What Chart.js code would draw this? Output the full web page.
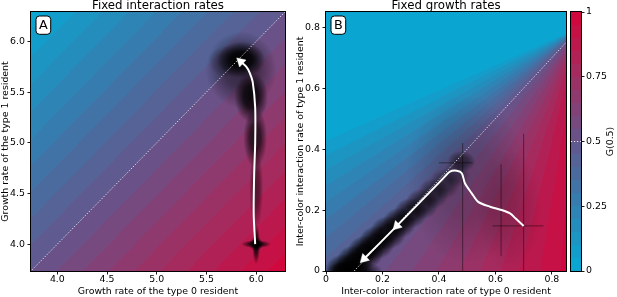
<!DOCTYPE html>
<html><head><meta charset="utf-8">
<script src="https://cdn.jsdelivr.net/npm/chart.js@4/dist/chart.umd.min.js"></script>
<style>
html,body{margin:0;padding:0;background:#fff;width:617px;height:297px;overflow:hidden;}
canvas{position:absolute;top:0;}
</style></head><body>
<canvas id="ca" width="300" height="297" style="left:0px"></canvas>
<canvas id="cb" width="300" height="297" style="left:286px"></canvas>
<canvas id="cc" width="57" height="297" style="left:560px"></canvas>
<script>
// ---------- text ----------
const titleA = 'Fixed interaction rates';
const titleB = 'Fixed growth rates';
const aXLabel = 'Growth rate of the type 0 resident';
const aYLabel = 'Growth rate of the type 1 resident';
const bXLabel = 'Inter-color interaction rate of type 0 resident';
const bYLabel = 'Inter-color interaction rate of type 1 resident';
const cbLabel = 'G(0.5)';
const panelLetters = ['A', 'B'];

// ---------- axes ----------
const aRange = [3.735, 6.29];
const bRange = [0, 0.85];
const aTicks = [4.0, 4.5, 5.0, 5.5, 6.0];
const aTickLabels = ['4.0', '4.5', '5.0', '5.5', '6.0'];
const bTicks = [0, 0.2, 0.4, 0.6, 0.8];
const bTickLabels = ['0', '0.2', '0.4', '0.6', '0.8'];
const cbTicks = [0, 0.25, 0.5, 0.75, 1];
const cbTickLabels = ['0', '0.25', '0.5', '0.75', '1'];

// ---------- colour map (G value -> colour) ----------
const cmapStops = [0, 0.25, 0.5, 0.75, 1];
const cmapColors = [[5,170,212],[50,128,178],[100,86,140],[160,46,98],[214,4,58]];
const cmapLevels = 20;

// ---------- G field, panel A: depends on (x - y) ----------
const aFieldDiff = [-2.6, -1.3, 0, 1.3, 2.6];
const aFieldG = [0.01, 0.25, 0.5, 0.75, 0.99];
// ---------- G field, panel B: depends on direction towards a focus point ----------
const bFieldFocus = [0.9, 0.8];
const bFieldAngle = [10, 21, 45, 60, 75, 90];
const bFieldG = [0, 0.02, 0.5, 0.68, 0.85, 1];

// ---------- mean trajectories ----------
const aPathX = [5.99, 5.975, 5.98, 5.99, 5.99, 5.965, 5.935, 5.9, 5.845];
const aPathY = [4.0, 4.3, 4.7, 5.0, 5.35, 5.6, 5.69, 5.75, 5.80];
const aArrowX = [5.845];
const aArrowY = [5.80];
const aArrowFromX = [5.9];
const aArrowFromY = [5.75];

const bPathX = [0.70, 0.672, 0.652, 0.622, 0.581, 0.539, 0.516, 0.492, 0.481, 0.463, 0.439, 0.415, 0.251, 0.135];
const bPathY = [0.148, 0.172, 0.189, 0.200, 0.211, 0.227, 0.255, 0.288, 0.321, 0.329, 0.326, 0.304, 0.148, 0.040];
const bArrowX = [0.251, 0.135];
const bArrowY = [0.148, 0.040];
const bArrowFromX = [0.415, 0.251];
const bArrowFromY = [0.304, 0.148];

// ---------- diagonals (G = 0.5) ----------
const aDiagX = [3.6, 6.4];
const aDiagY = [3.6, 6.4];
const bDiagX = [0.1, 0.95];
const bDiagY = [0, 0.85];
const cbMarkX = [0, 1];
const cbMarkY = [0.5, 0.5];

// ---------- simulated populations (density clouds) ----------
const aCloudX  = [5.85, 5.85, 5.95, 5.99, 6.00, 6.00, 6.00, 6.00, 5.70];
const aCloudY  = [5.82, 5.72, 5.45, 5.05, 4.55, 4.00, 4.00, 4.00, 5.80];
const aCloudRX = [0.24, 0.36, 0.17, 0.12, 0.07, 0.15, 0.04, 0.07, 0.18];
const aCloudRY = [0.18, 0.38, 0.25, 0.30, 0.40, 0.04, 0.20, 0.07, 0.16];
const aCloudA  = [1.0, 0.5, 0.9, 0.75, 0.5, 0.85, 0.85, 0.9, 0.35];

const bCloudX  = [0.10, 0.06, 0.10, 0.14, 0.18, 0.22, 0.26, 0.30, 0.34, 0.38, 0.42, 0.46, 0.50, 0.65, 0.48];
const bCloudY  = [0.00, 0.00, 0.03, 0.062, 0.094, 0.126, 0.158, 0.19, 0.22, 0.254, 0.286, 0.318, 0.30, 0.20, 0.36];
const bCloudRX = [0.10, 0.065, 0.065, 0.065, 0.065, 0.065, 0.06, 0.06, 0.06, 0.055, 0.055, 0.05, 0.22, 0.12, 0.05];
const bCloudRY = [0.035, 0.055, 0.055, 0.055, 0.055, 0.055, 0.05, 0.05, 0.05, 0.05, 0.05, 0.045, 0.28, 0.20, 0.035];
const bCloudA  = [0.95, 1.0, 1.0, 1.0, 0.95, 0.9, 0.85, 0.75, 0.65, 0.55, 0.45, 0.35, 0.18, 0.12, 0.5];

const bVLineX  = [0.484, 0.70, 0.62];
const bVLineY0 = [0, 0, 0.05];
const bVLineY1 = [0.42, 0.45, 0.35];
const bHLineY  = [0.148, 0.355];
const bHLineX0 = [0.59, 0.40];
const bHLineX1 = [0.77, 0.52];

// ================= helpers =================
Chart.defaults.font.family = '"DejaVu Sans", sans-serif';
Chart.defaults.color = '#000';
const zip = (xs, ys) => xs.map((v, i) => ({x: v, y: ys[i]}));
function interp(xs, ys, v) {
  if (v <= xs[0]) return ys[0];
  for (let i = 1; i < xs.length; i++) {
    if (v <= xs[i]) { const t = (v - xs[i-1]) / (xs[i] - xs[i-1]); return ys[i-1] + t * (ys[i] - ys[i-1]); }
  }
  return ys[ys.length - 1];
}
function cmap(g) {
  g = Math.min(0.99999, Math.max(0, g));
  g = (Math.floor(g * cmapLevels) + 0.5) / cmapLevels;
  return [0,1,2].map(k => Math.round(interp(cmapStops, cmapColors.map(c => c[k]), g)));
}
const gA = (x, y) => interp(aFieldDiff, aFieldG, x - y);
const gB = (x, y) => {
  const ang = Math.atan2(bFieldFocus[1] - y, bFieldFocus[0] - x) * 180 / Math.PI;
  return interp(bFieldAngle, bFieldG, ang);
};
const gCB = (x, y) => y;

function drawBlob(ctx, sx, sy, cx, cy, rx, ry, a) {
  const px = sx.getPixelForValue(cx), py = sy.getPixelForValue(cy);
  const rpx = Math.abs(sx.getPixelForValue(cx + rx) - px);
  const rpy = Math.abs(sy.getPixelForValue(cy + ry) - py);
  ctx.save();
  ctx.translate(px, py); ctx.scale(rpx, rpy);
  const g = ctx.createRadialGradient(0, 0, 0, 0, 0, 1);
  g.addColorStop(0, `rgba(0,0,0,${a})`);
  g.addColorStop(0.45, `rgba(0,0,0,${a * 0.85})`);
  g.addColorStop(0.75, `rgba(0,0,0,${a * 0.4})`);
  g.addColorStop(1, 'rgba(0,0,0,0)');
  ctx.fillStyle = g;
  ctx.beginPath(); ctx.arc(0, 0, 1, 0, Math.PI * 2); ctx.fill();
  ctx.restore();
}

function bgPlugin(gfun, clouds) {
  return {
    id: 'bg',
    beforeDatasetsDraw(chart) {
      const {ctx, chartArea: a, scales: {x, y}} = chart;
      const L = Math.round(a.left), T = Math.round(a.top);
      const W = Math.round(a.right) - L, H = Math.round(a.bottom) - T;
      const off = document.createElement('canvas'); off.width = W; off.height = H;
      const octx = off.getContext('2d');
      const img = octx.createImageData(W, H);
      for (let j = 0; j < H; j++) {
        const yv = y.getValueForPixel(T + j + 0.5);
        for (let i = 0; i < W; i++) {
          const xv = x.getValueForPixel(L + i + 0.5);
          const c = cmap(gfun(xv, yv));
          const k = (j * W + i) * 4;
          img.data[k] = c[0]; img.data[k+1] = c[1]; img.data[k+2] = c[2]; img.data[k+3] = 255;
        }
      }
      octx.putImageData(img, 0, 0);
      ctx.drawImage(off, L, T);
      if (clouds) {
        ctx.save();
        ctx.beginPath(); ctx.rect(L, T, W, H); ctx.clip();
        for (let i = 0; i < clouds.x.length; i++) {
          drawBlob(ctx, x, y, clouds.x[i], clouds.y[i], clouds.rx[i], clouds.ry[i], clouds.a[i]);
        }
        ctx.restore();
      }
    }
  };
}

function decorPlugin(title, letter, rotLabel) {
  return {
    id: 'decor',
    afterDatasetsDraw(chart) {
      const {ctx, chartArea: a} = chart;
      ctx.save();
      ctx.strokeStyle = '#000'; ctx.lineWidth = 1;
      ctx.strokeRect(Math.round(a.left) - 0.5, Math.round(a.top) - 0.5,
                     Math.round(a.right) - Math.round(a.left) + 1, Math.round(a.bottom) - Math.round(a.top) + 1);
      if (letter) {
        const bx = a.left + 5, by = a.top + 4, bw = 14.7, bh = 18.3;
        ctx.beginPath(); ctx.roundRect(bx, by, bw, bh, 3.5);
        ctx.fillStyle = '#fff'; ctx.fill();
        ctx.lineWidth = 1; ctx.strokeStyle = '#000'; ctx.stroke();
        ctx.fillStyle = '#000'; ctx.font = '12.8px "DejaVu Sans"';
        ctx.textAlign = 'center'; ctx.textBaseline = 'alphabetic';
        ctx.fillText(letter, bx + bw / 2, by + 13.3);
      }
      if (title) {
        ctx.fillStyle = '#000'; ctx.font = '11.8px "DejaVu Sans"';
        ctx.textAlign = 'center'; ctx.textBaseline = 'alphabetic';
        ctx.fillText(title, (a.left + a.right) / 2, 9.3);
      }
      if (rotLabel) {
        ctx.fillStyle = '#000'; ctx.font = '9.4px "DejaVu Sans"';
        ctx.translate(rotLabel.x, rotLabel.y); ctx.rotate(-Math.PI / 2);
        ctx.textAlign = 'center'; ctx.textBaseline = 'middle';
        ctx.fillText(rotLabel.text, 0, 0);
      }
      ctx.restore();
    }
  };
}

function makeScale(pos, range, ticks, labels, title, fit, titlePad, tickPad) {
  return {
    type: 'linear', position: pos, min: range[0], max: range[1],
    afterBuildTicks: s => { s.ticks = ticks.map(v => ({value: v})); },
    afterFit: fit,
    ticks: { autoSkip: false, maxRotation: 0, minRotation: 0, padding: tickPad, color: '#000',
             font: {size: 9.4, lineHeight: 1}, callback: (v, i) => labels[i] },
    grid: { display: true, drawOnChartArea: false, drawTicks: true, tickLength: 3.5, color: '#000', lineWidth: 0.9 },
    border: { display: false },
    title: { display: !!title, text: title || '', color: '#000', font: {size: 9.4, lineHeight: 1}, padding: titlePad }
  };
}

function arrowRotation(fromX, fromY) {
  return (c) => {
    const i = c.dataIndex;
    if (i === undefined) return 0;
    const sx = c.chart.scales.x, sy = c.chart.scales.y;
    const p = c.dataset.data[i];
    const dx = sx.getPixelForValue(p.x) - sx.getPixelForValue(fromX[i]);
    const dy = sy.getPixelForValue(p.y) - sy.getPixelForValue(fromY[i]);
    return Math.atan2(dx, -dy) * 180 / Math.PI;
  };
}

function pathDataset(xs, ys, order) {
  return { type: 'line', data: zip(xs, ys), borderColor: '#fff', borderWidth: 2, pointRadius: 0,
           tension: 0.25, showLine: true, fill: false, order };
}
function arrowDataset(xs, ys, fx, fy) {
  return { type: 'scatter', data: zip(xs, ys), pointStyle: 'triangle', pointRadius: 5.5,
           backgroundColor: '#fff', borderColor: '#fff', borderWidth: 0.5,
           rotation: arrowRotation(fx, fy), order: 0 };
}
function diagDataset(xs, ys) {
  return { type: 'line', data: zip(xs, ys), borderColor: 'rgba(255,255,255,0.85)', borderWidth: 1,
           borderDash: [1.2, 1.8], pointRadius: 0, showLine: true, fill: false, order: 2 };
}
function darkLine(pts) {
  return { type: 'line', data: pts, borderColor: 'rgba(0,0,0,0.45)', borderWidth: 1,
           pointRadius: 0, showLine: true, fill: false, order: 3 };
}

const baseOpts = {
  responsive: false, animation: false, events: [],
  plugins: { legend: {display: false}, tooltip: {enabled: false}, title: {display: false} }
};

// ================= Panel A =================
new Chart(document.getElementById('ca'), {
  type: 'scatter',
  data: { datasets: [
    arrowDataset(aArrowX, aArrowY, aArrowFromX, aArrowFromY),
    pathDataset(aPathX, aPathY, 1),
    diagDataset(aDiagX, aDiagY)
  ]},
  options: Object.assign({}, baseOpts, {
    layout: { autoPadding: false, padding: {left: 0, right: 15, top: 12, bottom: 0} },
    scales: {
      x: makeScale('bottom', aRange, aTicks, aTickLabels, aXLabel, s => { s.height = 26; }, {top: 0, bottom: 0.8}, 0),
      y: makeScale('left', aRange, aTicks, aTickLabels, aYLabel, s => { s.width = 31; }, {top: 0.8, bottom: 0}, 2.5)
    }
  }),
  plugins: [bgPlugin(gA, {x: aCloudX, y: aCloudY, rx: aCloudRX, ry: aCloudRY, a: aCloudA}),
            decorPlugin(titleA, panelLetters[0], null)]
});

// ================= Panel B =================
const bDark = [];
for (let i = 0; i < bVLineX.length; i++) bDark.push(darkLine([{x: bVLineX[i], y: bVLineY0[i]}, {x: bVLineX[i], y: bVLineY1[i]}]));
for (let i = 0; i < bHLineY.length; i++) bDark.push(darkLine([{x: bHLineX0[i], y: bHLineY[i]}, {x: bHLineX1[i], y: bHLineY[i]}]));

new Chart(document.getElementById('cb'), {
  type: 'scatter',
  data: { datasets: [
    arrowDataset(bArrowX, bArrowY, bArrowFromX, bArrowFromY),
    pathDataset(bPathX, bPathY, 1),
    diagDataset(bDiagX, bDiagY)
  ].concat(bDark)},
  options: Object.assign({}, baseOpts, {
    layout: { autoPadding: false, padding: {left: 0, right: 20, top: 12, bottom: 0} },
    scales: {
      x: makeScale('bottom', bRange, bTicks, bTickLabels, bXLabel, s => { s.height = 26; }, {top: 0, bottom: 0.8}, 0),
      y: makeScale('left', bRange, bTicks, bTickLabels, bYLabel, s => { s.width = 40; }, {top: 10.3, bottom: 0}, 2.5)
    }
  }),
  plugins: [bgPlugin(gB, {x: bCloudX, y: bCloudY, rx: bCloudRX, ry: bCloudRY, a: bCloudA}),
            decorPlugin(titleB, panelLetters[1], null)]
});

// ================= Colour bar =================
new Chart(document.getElementById('cc'), {
  type: 'scatter',
  data: { datasets: [ Object.assign(diagDataset(cbMarkX, cbMarkY), {borderColor: 'rgba(255,255,255,0.9)'}) ] },
  options: Object.assign({}, baseOpts, {
    layout: { autoPadding: false, padding: {left: 11, right: 0, top: 12, bottom: 26} },
    scales: {
      x: { type: 'linear', display: false, min: 0, max: 1 },
      y: makeScale('right', [0, 1], cbTicks, cbTickLabels, null, s => { s.width = 36; }, {top: 0, bottom: 0}, 1.5)
    }
  }),
  plugins: [bgPlugin(gCB, null), decorPlugin(null, null, {text: cbLabel, x: 51, y: 141.5})]
});
</script>
</body></html>
